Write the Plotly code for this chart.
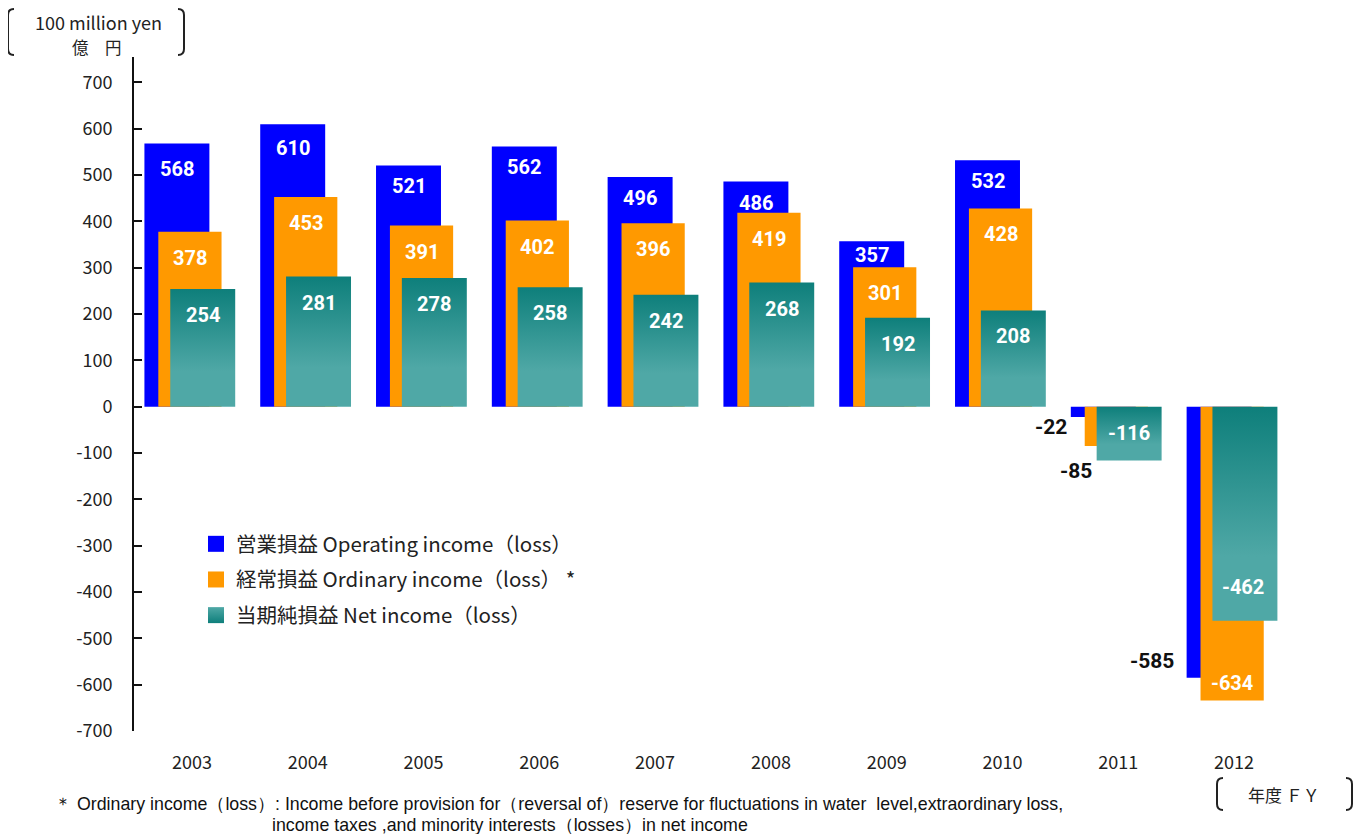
import plotly.graph_objects as go

# ---------------- data ----------------
years = ["2003", "2004", "2005", "2006", "2007", "2008", "2009", "2010", "2011", "2012"]
operating = [568, 610, 521, 562, 496, 486, 357, 532, -22, -585]
ordinary = [378, 453, 391, 402, 396, 419, 301, 428, -85, -634]
net = [254, 281, 278, 258, 242, 268, 192, 208, -116, -462]

name_op = "営業損益 Operating income（loss）"
name_ord = "経常損益 Ordinary income（loss） *"
name_net = "当期純損益 Net income（loss）"

y_ticks = list(range(-700, 701, 100))
y_ticktext = [str(v) for v in y_ticks]

# ---------------- style ----------------
C_BLUE = "#0000FF"
C_ORANGE = "#FF9900"
C_TEAL_TOP = "#0E7F7B"
C_TEAL_BOT = "#4FA8A6"
FONT_TXT = "Noto Sans CJK JP"
FONT_NUM = "Roboto"

# bar offset/width (category units)
OP_OFF, OP_W = -0.41, 0.561
ORD_OFF, ORD_W = -0.29, 0.546
NET_OFF, NET_W = -0.187, 0.561

Y_MIN, Y_MAX = -700, 755
# page pixel geometry of the plot area (page has an 8px body margin)
PAGE_OFF = 8
L, R, T, B = 134, 1292, 57, 731
W, H = R - L, B - T
FIG_W, FIG_H = 1370 - PAGE_OFF, 834 - PAGE_OFF


def px(x):
    return (x - L) / W


def py(y):
    return (B - y) / H


idx = list(range(len(years)))

fig = go.Figure()

fig.add_trace(go.Bar(x=idx, y=operating, offset=OP_OFF, width=OP_W,
                     marker=dict(color=C_BLUE, line=dict(width=0)),
                     showlegend=False, hoverinfo="skip"))
fig.add_trace(go.Bar(x=idx, y=ordinary, offset=ORD_OFF, width=ORD_W,
                     marker=dict(color=C_ORANGE, line=dict(width=0)),
                     showlegend=False, hoverinfo="skip"))

# teal bars with vertical gradient (one polygon per bar)
for i, v in zip(idx, net):
    x0 = i + NET_OFF
    x1 = x0 + NET_W
    fig.add_trace(go.Scatter(
        x=[x0, x0, x1, x1, x0], y=[0, v, v, 0, 0],
        mode="lines", fill="toself",
        line=dict(width=0, color="rgba(0,0,0,0)"),
        fillgradient=dict(type="vertical",
                          colorscale=[[0, C_TEAL_BOT], [0.3, C_TEAL_BOT], [1, C_TEAL_TOP]]),
        showlegend=False, hoverinfo="skip"))

# legend entries
for nm, col, grp in [(name_op, C_BLUE, "a"), (name_ord, C_ORANGE, "b")]:
    fig.add_trace(go.Scatter(x=[None], y=[None], mode="markers", name=nm, legendgroup=grp,
                             marker=dict(symbol="square", size=16, color=col)))
fig.add_trace(go.Scatter(x=[None], y=[None], mode="markers", name=name_net, legendgroup="c",
                         marker=dict(symbol="square", size=16, color=C_TEAL_BOT,
                                     gradient=dict(type="vertical", color=C_TEAL_TOP))))

# ---------------- value labels ----------------
annotations = []
# default label offsets (px) from bar end, per series
default_shift = {"op": -21, "ord": -26, "net": -26}
# label placement overrides: (series, year) -> (mode, xshift, yshift)
overrides = {
    ("op", "2003"): ("in", 0, -25),
    ("op", "2004"): ("in", 0, -24),
    ("op", "2009"): ("in", 0, -14),
    ("op", "2011"): ("outleft", -2, -10),
    ("ord", "2011"): ("outleft", 9, -25),
    ("net", "2011"): ("in", 0, 27),
    ("op", "2012"): ("outleft", -11, 17),
    ("ord", "2012"): ("in", 0, 17),
    ("net", "2012"): ("in", -2, 34),
}
series = [("op", operating, OP_OFF, OP_W), ("ord", ordinary, ORD_OFF, ORD_W),
          ("net", net, NET_OFF, NET_W)]
for key, vals, off, wd in series:
    for i, (yr, v) in enumerate(zip(years, vals)):
        mode, xs, ys = overrides.get((key, yr), ("in", 0, default_shift[key]))
        if mode == "in":
            annotations.append(dict(x=i + off + wd / 2, y=v, xref="x", yref="y",
                                    text=str(v), showarrow=False, xanchor="center",
                                    yanchor="middle", xshift=xs, yshift=ys,
                                    font=dict(family=FONT_NUM, size=20, color="white",
                                              weight="bold")))
        else:
            annotations.append(dict(x=i + off, y=v, xref="x", yref="y",
                                    text=str(v), showarrow=False, xanchor="right",
                                    yanchor="middle", xshift=xs, yshift=ys,
                                    font=dict(family=FONT_NUM, size=21, color="#111",
                                              weight="bold")))

# unit label
annotations.append(dict(x=px(98), y=py(22), xref="paper", yref="paper",
                        text="100 million yen", showarrow=False,
                        xanchor="center", yanchor="middle",
                        font=dict(family=FONT_TXT, size=18, color="#222")))
annotations.append(dict(x=px(97), y=py(47), xref="paper", yref="paper",
                        text="億　円", showarrow=False,
                        xanchor="center", yanchor="middle",
                        font=dict(family=FONT_TXT, size=16.5, color="#222")))
# FY label
annotations.append(dict(x=px(1284), y=py(794), xref="paper", yref="paper",
                        text="年度 ＦＹ", showarrow=False, xanchor="center", yanchor="middle",
                        font=dict(family=FONT_TXT, size=17, color="#222")))
# footnote
annotations.append(dict(x=px(52), y=py(804), xref="paper", yref="paper",
                        text="＊ Ordinary income（loss）: Income before provision for（reversal of）reserve for fluctuations in water  level,extraordinary loss,",
                        showarrow=False, xanchor="left", yanchor="middle",
                        font=dict(family="Liberation Sans", size=17.8, color="#111")))
annotations.append(dict(x=px(270), y=py(825), xref="paper", yref="paper",
                        text="income taxes ,and minority interests（losses）in net income",
                        showarrow=False, xanchor="left", yanchor="middle",
                        font=dict(family="Liberation Sans", size=17.8, color="#111")))


def bracket(x_in, x_out, y0, y1):
    r = 6
    return (f"M {px(x_in)},{py(y0)} Q {px(x_out)},{py(y0)} {px(x_out)},{py(y0 + r)} "
            f"L {px(x_out)},{py(y1 - r)} Q {px(x_out)},{py(y1)} {px(x_in)},{py(y1)}")


shapes = []
for xi, xo, y0, y1 in [(14, 8, 9, 55), (178, 184, 9, 55), (1223, 1217, 778, 810), (1346, 1352, 778, 810)]:
    shapes.append(dict(type="path", xref="paper", yref="paper", path=bracket(xi, xo, y0, y1),
                       line=dict(color="#222", width=2)))

fig.update_layout(
    width=FIG_W, height=FIG_H,
    margin=dict(l=L - PAGE_OFF, r=1370 - R, t=T - PAGE_OFF, b=834 - B),
    paper_bgcolor="white", plot_bgcolor="white",
    barmode="overlay",
    showlegend=True,
    legend=dict(x=px(196), y=py(524), xanchor="left", yanchor="top",
                font=dict(family=FONT_TXT, size=20.5, color="#222"),
                tracegroupgap=6, traceorder="grouped", bgcolor="rgba(0,0,0,0)",
                itemclick=False, itemdoubleclick=False),
    xaxis=dict(range=[-0.5, len(years) - 0.5], tickmode="array", tickvals=idx, ticktext=years,
               showline=False, ticks="", showgrid=False, zeroline=False,
               ticklabelstandoff=19,
               tickfont=dict(family=FONT_TXT, size=18, color="#222")),
    xaxis2=dict(range=[-0.5, len(years) - 0.5], overlaying="x", anchor="free",
                position=(0 - Y_MIN) / (Y_MAX - Y_MIN), side="bottom",
                tickmode="array", tickvals=[i - 0.5 for i in range(len(years) + 1)],
                ticks="inside", ticklen=8, tickwidth=2, tickcolor="#111",
                showline=True, linewidth=2, linecolor="#111",
                showticklabels=False, showgrid=False, zeroline=False),
    yaxis=dict(range=[Y_MIN, Y_MAX], tickmode="array", tickvals=y_ticks, ticktext=y_ticktext,
               ticks="inside", ticklen=8, tickwidth=2, tickcolor="#111",
               showline=True, linewidth=2, linecolor="#111",
               showgrid=False, zeroline=False, ticklabelstandoff=16,
               tickfont=dict(family=FONT_TXT, size=18, color="#222")),
    annotations=annotations,
    shapes=shapes,
)

fig.write_html("out.html")
